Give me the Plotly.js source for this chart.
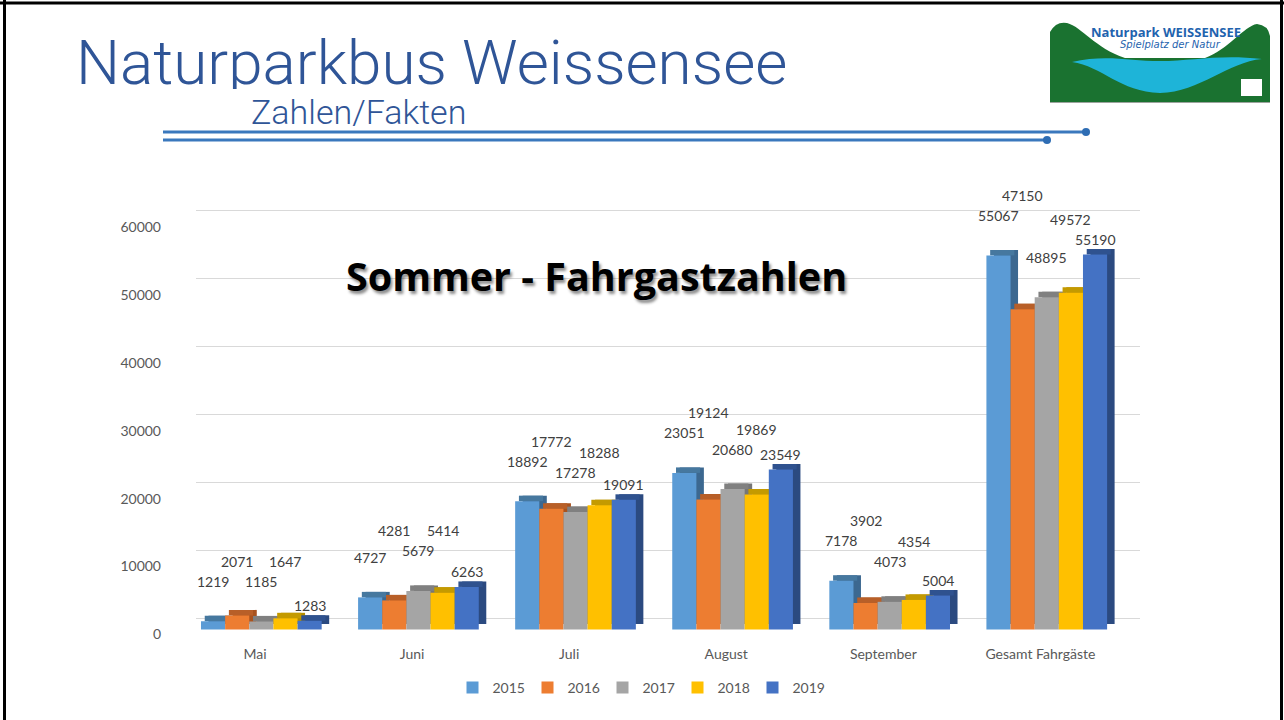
<!DOCTYPE html>
<html><head><meta charset="utf-8">
<script src="https://cdn.plot.ly/plotly-3.0.1.min.js"></script>
<style>html,body{margin:0;padding:0;background:#fff;overflow:hidden}#chart{width:1284px;height:720px}</style>
</head><body><div id="chart"></div>
<script>
// ---- data ----
const categories = ['Mai', 'Juni', 'Juli', 'August', 'September', 'Gesamt Fahrgäste'];
const years = ['2015', '2016', '2017', '2018', '2019'];
const v2015 = [1219, 4727, 18892, 23051, 7178, 55067];
const v2016 = [2071, 4281, 17772, 19124, 3902, 47150];
const v2017 = [1185, 5679, 17278, 20680, 4073, 48895];
const v2018 = [1647, 5414, 18288, 19869, 4354, 49572];
const v2019 = [1283, 6263, 19091, 23549, 5004, 55190];
const yTicks = [0, 10000, 20000, 30000, 40000, 50000, 60000];
const mainTitle = 'Naturparkbus Weissensee';
const subTitle = 'Zahlen/Fakten';
const chartTitle = 'Sommer - Fahrgastzahlen';
const logoTitle = 'Naturpark WEISSENSEE';
const logoSub = 'Spielplatz der Natur';

// ---- styling / geometry ----
const series = [v2015, v2016, v2017, v2018, v2019];
const frontCol = ['#5B9BD5', '#ED7D31', '#A5A5A5', '#FFC000', '#4472C4'];
const topCol   = ['#46789F', '#B85F28', '#808080', '#C49A00', '#2F528F'];
const sideCol  = ['#3C6890', '#A9531F', '#767676', '#B38C00', '#2B4A80'];
const W = 1284, H = 720;
const fx = p => p / W, fy = p => 1 - p / H;
const s = 407.6 / 60000;            // px per unit
const domTop = 200, domBot = 644;
const rangeFor = z => [-(domBot - z) / s, (z - domTop) / s];
const xDomL = 176.45, xDomR = 1118.95;
const catPx = (xDomR - xDomL) / 6;
const w = 24.14 / catPx;
const off0 = -54 / catPx;
const dxU = 7.5 / catPx;
const dyU = 5.5 / s;
const idx = categories.map((c, k) => k);

const traces = [{type: 'scatter', x: [], y: [], xaxis: 'x', yaxis: 'y', showlegend: false}];
series.forEach((vals, i) => {
  const off = off0 + i * w;
  traces.push({type: 'bar', x: idx, y: vals, base: dyU, offset: off + dxU, width: w,
    xaxis: 'x2', yaxis: 'y2', marker: {color: sideCol[i], line: {width: 0}}, showlegend: false, hoverinfo: 'skip'});
  traces.push({type: 'bar', x: idx, y: vals.map(() => dyU), base: vals, offset: off + dxU / 2, width: w,
    xaxis: 'x2', yaxis: 'y2', marker: {color: topCol[i], line: {width: 0}}, showlegend: false, hoverinfo: 'skip'});
  traces.push({type: 'bar', x: idx, y: vals, base: 0, offset: off, width: w, name: years[i],
    xaxis: 'x2', yaxis: 'y2', marker: {color: frontCol[i], line: {width: 0}}});
});
traces.push({type: 'scatter', x: [], y: [], xaxis: 'x2', yaxis: 'y3', showlegend: false});
traces.push({type: 'scatter', x: [], y: [], xaxis: 'x3', yaxis: 'y4', showlegend: false});

const tickFont = {family: 'Lato, "Open Sans", sans-serif', size: 14, color: '#595959'};
const annotations = [];
// data labels: staggered above the bars so neighbours do not collide
idx.forEach(k => {
  const h = series.map(vals => vals[k] * s);           // bar heights in px
  const L = [h[0] + 40, 0, h[2] + 40, 0, h[4] + 15];
  L[1] = Math.max(L[0], L[2], h[1] + 15) + 20;
  L[3] = Math.max(L[2], L[4], h[3] + 15) + 20;
  series.forEach((vals, i) => {
    annotations.push({xref: 'x2', yref: 'y2', x: k + off0 + i * w + w / 2, y: vals[k], yshift: L[i] - h[i],
      text: String(vals[k]), showarrow: false, font: {family: 'Lato, sans-serif', size: 14, color: '#404040'}});
  });
});
const P = {xref: 'x3', yref: 'y4', showarrow: false};
annotations.push(Object.assign({}, P, {x: 74, y: 62, xanchor: 'left', yanchor: 'middle', height: 54, text: mainTitle,
  font: {family: 'Roboto, sans-serif', size: 62, weight: 300, color: '#2F5597'}}));
annotations.push(Object.assign({}, P, {x: 249, y: 112, xanchor: 'left', yanchor: 'middle', height: 30, text: subTitle,
  font: {family: 'Roboto, sans-serif', size: 34, weight: 300, color: '#2F5597'}}));
annotations.push(Object.assign({}, P, {x: 596, y: 276, xanchor: 'center', yanchor: 'middle', text: chartTitle,
  font: {family: '"Open Sans", sans-serif', size: 39.5, weight: 'bold', color: '#000', shadow: '2px 3px 3px rgba(0,0,0,0.45)'}}));
annotations.push(Object.assign({}, P, {x: 1166, y: 32, xanchor: 'center', yanchor: 'middle', text: '<b>' + logoTitle + '</b>',
  font: {family: '"Open Sans", sans-serif', size: 13, color: '#1F63AE'}}));
annotations.push(Object.assign({}, P, {x: 1170, y: 44, xanchor: 'center', yanchor: 'middle', text: '<i>' + logoSub + '</i>',
  font: {family: '"DejaVu Sans", sans-serif', size: 10, color: '#1F63AE'}}));

const S = {xref: 'x3', yref: 'y4', layer: 'above'};
const shapes = [
  Object.assign({}, S, {type: 'line', x0: 4.5, x1: 4.5, y0: 0, y1: 720, line: {color: '#000', width: 3}}),
  Object.assign({}, S, {type: 'line', x0: 1281.5, x1: 1281.5, y0: 0, y1: 720, line: {color: '#000', width: 3}}),
  Object.assign({}, S, {type: 'line', x0: 0, x1: 1284, y0: 3, y1: 3, line: {color: '#000', width: 3}}),
  Object.assign({}, S, {type: 'line', x0: 163, x1: 1086, y0: 132, y1: 132, line: {color: '#3A78BD', width: 3}}),
  Object.assign({}, S, {type: 'line', x0: 163, x1: 1047, y0: 140, y1: 140, line: {color: '#3A78BD', width: 3}}),
  Object.assign({}, S, {type: 'circle', x0: 1082, x1: 1090, y0: 128, y1: 136, fillcolor: '#2E6DB4', line: {width: 0}}),
  Object.assign({}, S, {type: 'circle', x0: 1043, x1: 1051, y0: 136, y1: 144, fillcolor: '#2E6DB4', line: {width: 0}}),
  // logo
  Object.assign({}, S, {type: 'path', fillcolor: '#1A7230', line: {width: 0},
    path: 'M1050,102 L1050,32 Q1056,21 1067,23 C1082,27 1095,48 1125,58 L1205,58 C1228,50 1244,26 1257,24 Q1268,25 1270,36 L1270,102 Z'}),
  Object.assign({}, S, {type: 'path', fillcolor: '#1EB4D8', line: {width: 0},
    path: 'M1072,62 C1105,54 1130,61 1160,61 C1192,61 1220,54 1262,59 C1228,62 1200,92 1160,93 C1120,92 1102,66 1072,62 Z'}),
  Object.assign({}, S, {type: 'rect', x0: 1241, x1: 1262, y0: 79, y1: 96, fillcolor: '#fff', line: {width: 0}}),
  Object.assign({}, S, {type: 'line', x0: 1050, x1: 1270, y0: 102.5, y1: 102.5, line: {color: '#9DA39E', width: 1}})
];

const layout = {
  width: W, height: H, margin: {l: 0, r: 0, t: 0, b: 0},
  paper_bgcolor: '#fff', plot_bgcolor: 'rgba(0,0,0,0)',
  barmode: 'overlay', showlegend: true,
  font: {family: 'Lato, sans-serif', color: '#595959'},
  xaxis: {domain: [fx(196), fx(1140)], range: [0, 1], visible: false, anchor: 'y', fixedrange: true},
  yaxis: {domain: [fy(domBot), fy(domTop)], range: rangeFor(618.5), anchor: 'x', tickvals: yTicks,
    showgrid: true, gridcolor: '#D9D9D9', gridwidth: 1, showticklabels: false, zeroline: false, showline: false, ticks: '', fixedrange: true},
  xaxis2: {domain: [fx(xDomL), fx(xDomR)], range: [-0.5, 5.5], anchor: 'y2', tickvals: idx, ticktext: categories,
    showgrid: false, zeroline: false, showline: false, ticks: '', tickfont: tickFont, fixedrange: true},
  yaxis2: {domain: [fy(domBot), fy(domTop)], range: rangeFor(629.5), anchor: 'x2', showgrid: false, zeroline: false,
    showticklabels: false, showline: false, ticks: '', fixedrange: true},
  yaxis3: {overlaying: 'y2', anchor: 'free', position: fx(161), side: 'left', range: rangeFor(634.5), tickvals: yTicks,
    ticktext: yTicks.map(String), showgrid: false, zeroline: false, showline: false, ticks: '', tickfont: tickFont, fixedrange: true},
  xaxis3: {domain: [0, 1], range: [0, W], visible: false, anchor: 'y4', fixedrange: true},
  yaxis4: {domain: [0, 1], range: [H, 0], visible: false, anchor: 'x3', fixedrange: true},
  legend: {orientation: 'h', x: fx(640), xanchor: 'center', y: fy(688), yanchor: 'middle', font: tickFont,
    itemwidth: 30, entrywidth: 30, entrywidthmode: 'pixels', traceorder: 'normal', bgcolor: 'rgba(0,0,0,0)'},
  annotations: annotations, shapes: shapes
};
Plotly.newPlot('chart', traces, layout, {staticPlot: true, displayModeBar: false});
</script></body></html>
